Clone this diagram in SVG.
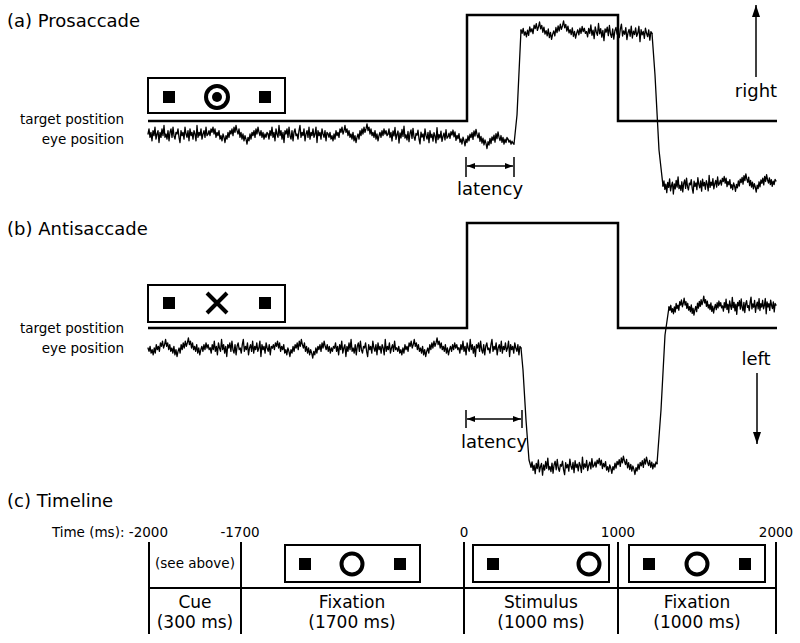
<svg xmlns="http://www.w3.org/2000/svg" width="800" height="643" viewBox="0 0 800 643">
<style>
text { font-family: "DejaVu Sans", "Liberation Sans", sans-serif; fill: #000; }
.t18 { font-size: 18px; }
.t17 { font-size: 17px; }
.t13 { font-size: 13.5px; }
.sig { fill: none; stroke: #000; stroke-width: 2.5; stroke-linejoin: miter; }
.eye { fill: none; stroke: #000; stroke-width: 1.3; vector-effect: non-scaling-stroke; stroke-linejoin: round; stroke-linecap: round; }
.box { fill: #fff; stroke: #000; stroke-width: 2; }
.ring { fill: none; stroke: #000; stroke-width: 4; }
.ln { fill: none; stroke: #000; stroke-width: 2; }
.thin { fill: none; stroke: #000; stroke-width: 1.5; }
</style>
<defs>
<path id="nz" class="eye" d="M0,0 l2,-3 2,5 2,-3 2,5 2,-6 2,3 2,-5 2,7 2,-3 2,-2 2,7 2,-6 2,3 2,-5 2,4 2,-6 2,7 2,-2 2,3 2,-5 2,6 2,-5 2,-2 2,5 2,-6 2,5 2,2 2,-4 2,1 2,-3 2,5 2,3 2,-7 2,3 2,-2 2,4 2,-7 2,4 2,2 2,-4 2,6 2,-7 2,4 2,-2 2,4 2,-5 2,2 2,4 2,-9 2,7 2,-3 2,2 2,-4 2,6 2,-3 2,-2 2,4 2,-6 2,5 2,-1"/>
<path id="nz2" class="eye" d="M0,0 l2,2 2,-3 2,4 2,-2 2,3 2,-4 2,3 2,-5 2,3 2,-2 2,3 2,-5 2,2 2,-3 2,4 2,-2 2,-3 2,4 2,-2 2,4 2,-3 2,4 2,-2 2,3 2,-4 2,5 2,-3 2,4 2,-3 2,-2 2,3 2,-5 2,3 2,-4 2,3 2,-4 2,3 2,-2 2,-3 2,4 2,-2 2,4 2,-3 2,4 2,-2 2,3 2,-4 2,5 2,-3 2,4 2,-3 2,-2 2,3 2,-4 2,3 2,-4 2,3 2,-2 2,3 2,-1"/>
<marker id="big" viewBox="0 0 12 8" refX="12" refY="4" markerUnits="userSpaceOnUse" markerWidth="12" markerHeight="8" orient="auto-start-reverse"><path d="M0,0 L12,4 L0,8 z" fill="#000"/></marker>
<marker id="sm" viewBox="0 0 8 6" refX="8" refY="3" markerUnits="userSpaceOnUse" markerWidth="8" markerHeight="6" orient="auto-start-reverse"><path d="M0,0 L8,3 L0,6 z" fill="#000"/></marker>
</defs>
<rect width="800" height="643" fill="#fff"/>

<!-- Panel (a) -->
<g id="panel-a">
<text class="t18" x="7" y="27">(a) Prosaccade</text>
<g id="stim-a">
<rect class="box" x="148" y="78" width="137" height="35"/>
<rect x="163" y="91" width="12" height="12"/>
<rect x="259" y="91" width="12" height="12"/>
<circle class="ring" cx="217" cy="97" r="11"/>
<circle cx="217" cy="97" r="5"/>
</g>
<text class="t13" x="124" y="124" text-anchor="end">target postition</text>
<text class="t13" x="124" y="144" text-anchor="end">eye position</text>
<path class="sig" d="M148,121 H467 V15 H618 V121 H777"/>
<g id="eye-a">
<use href="#nz" transform="translate(148,134) scale(0.5,1.7)"/>
<use href="#nz2" transform="translate(208,134) scale(0.5,-1.7)"/>
<use href="#nz" transform="translate(268,134) scale(0.5,-1.7)"/>
<use href="#nz2" transform="translate(328,134) scale(0.5,1.7)"/>
<use href="#nz" transform="translate(388,134) skewY(2.5) scale(0.5,1.7)"/>
<use href="#nz2" transform="translate(448,136.6) skewY(2.5) scale(0.5,-1.7)"/>
<path class="eye" d="M508,139.2 l1,3 1,-2 1,4 1,-3 1,2 1,1 L517,115 L521,30"/>
<use href="#nz2" transform="translate(521,30) skewY(1.5) scale(0.5458,1.7)"/>
<use href="#nz" transform="translate(586.5,31.7) skewY(1.5) scale(0.5458,-1.7)"/>
<path class="eye" d="M652,33.4 L655,75 L659,150 L663,186"/>
<use href="#nz" transform="translate(663,186) skewY(-2.5) scale(0.4708,1.7)"/>
<use href="#nz2" transform="translate(719.5,183.5) skewY(-2.5) scale(0.4708,-1.7)"/>
</g>
<g id="latency-a">
<path class="thin" d="M466,157 V177 M514,157 V177"/>
<line class="thin" x1="467" y1="166" x2="513" y2="166" marker-start="url(#sm)" marker-end="url(#sm)"/>
<text class="t18" x="490" y="195" text-anchor="middle">latency</text>
</g>
<g id="dir-right">
<line class="thin" x1="756" y1="77" x2="756" y2="5" marker-end="url(#big)"/>
<text class="t18" x="756" y="97" text-anchor="middle">right</text>
</g>
</g>

<!-- Panel (b) -->
<g id="panel-b">
<text class="t18" x="7" y="235">(b) Antisaccade</text>
<g id="stim-b">
<rect class="box" x="148" y="285" width="137" height="37"/>
<rect x="163" y="297" width="12" height="12"/>
<rect x="259" y="297" width="12" height="12"/>
<path d="M207,293 L227,313 M227,293 L207,313" stroke="#000" stroke-width="4" fill="none"/>
</g>
<text class="t13" x="124" y="333" text-anchor="end">target postition</text>
<text class="t13" x="124" y="353" text-anchor="end">eye position</text>
<path class="sig" d="M148,328 H467 V223 H618 V328 H777"/>
<g id="eye-b">
<use href="#nz2" transform="translate(148,348) scale(0.518,1.7)"/>
<use href="#nz" transform="translate(210.17,348) scale(0.518,-1.7)"/>
<use href="#nz2" transform="translate(272.33,348) scale(0.518,-1.7)"/>
<use href="#nz" transform="translate(334.5,348) scale(0.518,1.7)"/>
<use href="#nz2" transform="translate(396.67,348) scale(0.518,1.7)"/>
<use href="#nz" transform="translate(458.83,348) scale(0.518,-1.7)"/>
<path class="eye" d="M521,348 L523,370 L526,420 L529,460 L531,467"/>
<use href="#nz" transform="translate(531,467) skewY(-1.5) scale(0.525,1.7)"/>
<use href="#nz2" transform="translate(594,465.35) skewY(-1.5) scale(0.525,-1.7)"/>
<path class="eye" d="M657,463.7 L661,410 L665,335 L669,307"/>
<use href="#nz2" transform="translate(669,307) skewY(-1) scale(0.4458,1.7)"/>
<use href="#nz" transform="translate(722.5,306.07) skewY(-1) scale(0.4458,-1.7)"/>
</g>
<g id="latency-b">
<path class="thin" d="M466,410 V428 M522,410 V428"/>
<line class="thin" x1="467" y1="419" x2="521" y2="419" marker-start="url(#sm)" marker-end="url(#sm)"/>
<text class="t18" x="494" y="448" text-anchor="middle">latency</text>
</g>
<g id="dir-left">
<text class="t18" x="756" y="365" text-anchor="middle">left</text>
<line class="thin" x1="757" y1="373" x2="757" y2="444" marker-end="url(#big)"/>
</g>
</g>

<!-- Panel (c) -->
<g id="panel-c">
<text class="t18" x="7" y="507">(c) Timeline</text>
<g id="axis">
<text class="t13" x="168" y="537" text-anchor="end">Time (ms): -2000</text>
<text class="t13" x="240" y="537" text-anchor="middle">-1700</text>
<text class="t13" x="464" y="537" text-anchor="middle">0</text>
<text class="t13" x="618" y="537" text-anchor="middle">1000</text>
<text class="t13" x="776" y="537" text-anchor="middle">2000</text>
<path class="ln" d="M149,542 V634 M241,542 V634 M464,542 V634 M618,542 V634 M776,542 V634 M149,588 H776"/>
</g>
<g id="cue">
<text class="t13" x="195" y="568" text-anchor="middle">(see above)</text>
<text class="t17" x="195" y="608" text-anchor="middle">Cue</text>
<text class="t17" x="195" y="628" text-anchor="middle">(300 ms)</text>
</g>
<g id="fixation1">
<rect class="box" x="285" y="545" width="135" height="37"/>
<rect x="299" y="558" width="12" height="12"/>
<rect x="394" y="558" width="12" height="12"/>
<circle class="ring" cx="352" cy="564" r="10.5"/>
<text class="t17" x="352" y="608" text-anchor="middle">Fixation</text>
<text class="t17" x="352" y="628" text-anchor="middle">(1700 ms)</text>
</g>
<g id="stimulus">
<rect class="box" x="473" y="545" width="136" height="37"/>
<rect x="487" y="558" width="12" height="12"/>
<circle class="ring" cx="589" cy="564" r="10.5"/>
<text class="t17" x="541" y="608" text-anchor="middle">Stimulus</text>
<text class="t17" x="541" y="628" text-anchor="middle">(1000 ms)</text>
</g>
<g id="fixation2">
<rect class="box" x="629" y="545" width="136" height="37"/>
<rect x="643" y="558" width="12" height="12"/>
<rect x="739" y="558" width="12" height="12"/>
<circle class="ring" cx="697" cy="564" r="10.5"/>
<text class="t17" x="697" y="608" text-anchor="middle">Fixation</text>
<text class="t17" x="697" y="628" text-anchor="middle">(1000 ms)</text>
</g>
</g>
</svg>
